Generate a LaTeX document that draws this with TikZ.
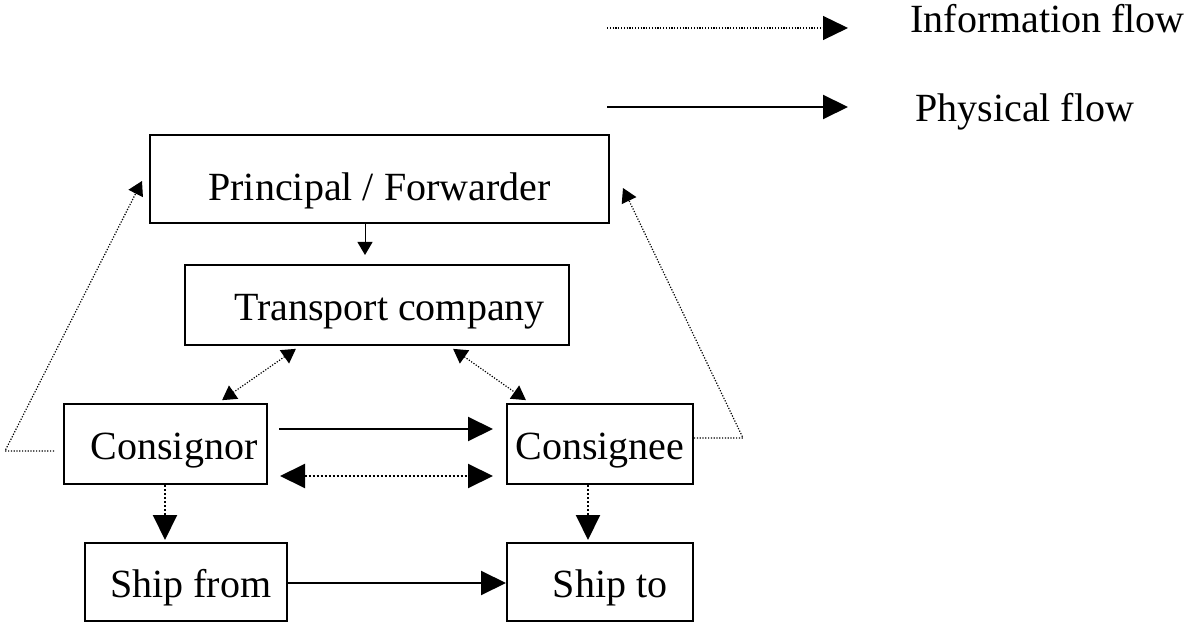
\documentclass[tikz,border=0pt]{standalone}
\usepackage{fontspec}
\setmainfont{Liberation Serif}
\usetikzlibrary{arrows.meta}

\begin{document}
\begin{tikzpicture}[x=0.5pt,y=-0.5pt,
    box/.style={draw,line width=1pt,inner sep=0pt,text height=15.5pt,text depth=0pt,font=\fontsize{20}{24}\selectfont},
    lab/.style={anchor=base west,inner sep=0pt,font=\fontsize{20}{24}\selectfont},
    info/.style={line width=0.6pt,dash pattern=on 0.6pt off 0.8pt},
    infothick/.style={line width=1pt,dash pattern=on 1pt off 1pt},
    phys/.style={line width=1pt},
    bighead/.style={-{Triangle[length=12.5pt,width=12pt]}},
    bigboth/.style={{Triangle[length=12.5pt,width=12pt]}-{Triangle[length=12.5pt,width=12pt]}},
    smallhead/.style={-{Triangle[length=7pt,width=8pt]}},
    smallboth/.style={{Triangle[length=7pt,width=8pt]}-{Triangle[length=7pt,width=8pt]}}]
    \useasboundingbox (0,0) rectangle (1187,624);
    \node[box,minimum width=229.5pt,minimum height=44pt,text height=22pt] (prin) at (379.5,179) {Principal / Forwarder};
    \node[box,minimum width=192pt,minimum height=40pt] (trans) at (377,305) {\hspace*{12.5pt}Transport company};
    \node[box,minimum width=101.5pt,minimum height=40pt] (cons) at (165.5,444) {\hspace*{8.5pt}Consignor};
    \node[box,minimum width=93pt,minimum height=40pt] (consg) at (600,444) {Consignee};
    \node[box,minimum width=101.25pt,minimum height=39pt] (from) at (185.75,582) {\hspace*{5pt}Ship from};
    \node[box,minimum width=93pt,minimum height=39pt] (to) at (600,582) {\hspace*{10pt}Ship to};
    \coordinate (lbend) at (5,451);
    \coordinate (rbend) at (743,438);
    \draw[line width=0.5pt,-{Triangle[length=6.5pt,width=7.5pt]},shorten >=4.5pt] (365,0 |- prin.south) -- (365,0 |- trans.north);
    \draw[info,smallboth,shorten <=2.5pt,shorten >=2.5pt] (300,0 |- trans.south) -- (218,0 |- cons.north);
    \draw[info,smallboth,shorten <=2.5pt,shorten >=2.5pt] (449,0 |- trans.south) -- (530,0 |- consg.north);
    \draw[phys,bighead,shorten <=5.5pt,shorten >=6.5pt] (cons.east |- 0,429) -- (consg.west |- 0,429);
    \draw[infothick,bigboth,shorten <=6pt,shorten >=6.5pt] (cons.east |- 0,476) -- (consg.west |- 0,476);
    \draw[infothick,bighead,shorten >=1pt] (165,0 |- cons.south) -- (165,0 |- from.north);
    \draw[infothick,bighead,shorten >=1pt] (588,0 |- consg.south) -- (588,0 |- to.north);
    \draw[phys,bighead] (from.east |- 0,583) -- (to.west |- 0,583);
    \draw[info,smallhead,shorten <=4.5pt] (cons.west |- lbend) -- (lbend) -- ([xshift=-3.5pt,yshift=-1pt]prin.west);
    \draw[info,smallhead] (consg.east |- rbend) -- (rbend) -- ([xshift=6.5pt,yshift=-4.5pt]prin.east);
    \coordinate (infoS) at (607,28);
    \coordinate (infoE) at (848,28);
    \coordinate (physS) at (607,107);
    \coordinate (physE) at (848,107);
    \draw[info,bighead] (infoS) -- (infoE);
    \draw[phys,bighead] (physS) -- (physE);
    \node[lab] (infolab) at (910,33) {Information flow};
    \node[lab] (physlab) at (915,122) {Physical flow};
\end{tikzpicture}
\end{document}
